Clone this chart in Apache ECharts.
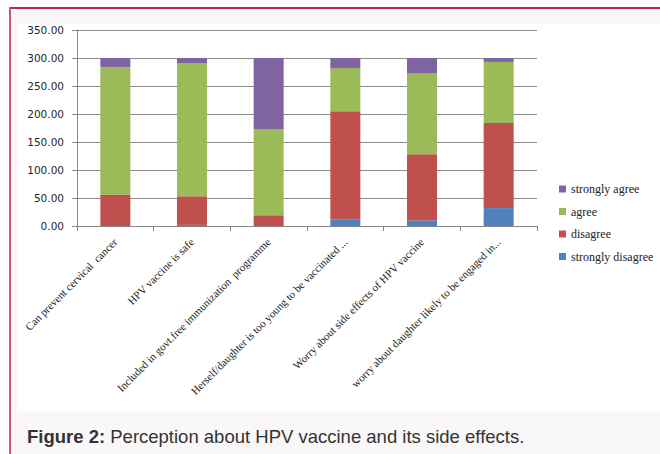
<!DOCTYPE html>
<html>
<head>
<meta charset="utf-8">
<script src="https://cdn.jsdelivr.net/npm/echarts@6/dist/echarts.min.js"></script>
<style>
html,body{margin:0;padding:0;background:#fff;}
#chart{width:660px;height:454px;}
</style>
</head>
<body>
<div id="chart"></div>
<script>
const categories = [
  "Can prevent cervical  cancer",
  "HPV vaccine is safe",
  "Included in govt.free immunization  programme",
  "Herself/daughter is too young to be vaccinated ...",
  "Worry about side effects of HPV vaccine",
  "worry about daughter likely to be engaged in..."
];
const stronglyDisagree = [0, 2, 0, 12, 10, 32];
const disagree = [56, 51, 19, 193, 118, 152];
const agree = [228, 238, 154, 77, 145, 109];
const stronglyAgree = [16, 9, 127, 18, 27, 7];
const legendOrder = ["strongly agree", "agree", "disagree", "strongly disagree"];

const chart = echarts.init(document.getElementById('chart'), null, {renderer: 'svg'});
const serif = "Liberation Serif";
function bar(name, data, color) {
  return {name, type: 'bar', stack: 'total', data, barWidth: 30,
    itemStyle: {color}, emphasis: {disabled: true}};
}
chart.setOption({
  animation: false,
  backgroundColor: '#ffffff',
  graphic: [
    {type: 'rect', z: -10, shape: {x: 9, y: 7, width: 651, height: 447}, style: {fill: '#f9f7f8'}},
    {type: 'rect', z: -9, shape: {x: 17, y: 24, width: 643, height: 388}, style: {fill: '#ffffff'}},
    {type: 'rect', z: -8, shape: {x: 9, y: 7, width: 651, height: 2}, style: {fill: '#c41f4f'}},
    {type: 'rect', z: -8, shape: {x: 9, y: 7, width: 2, height: 447}, style: {fill: '#d0557d'}}
  ],
  title: {
    left: 22, top: 422,
    text: '{b|Figure 2:} Perception about HPV vaccine and its side effects.',
    textStyle: {
      fontFamily: "Liberation Sans", fontSize: 18.5, fontWeight: 'normal', color: '#333333',
      rich: {b: {fontFamily: "Liberation Sans", fontSize: 18.5, fontWeight: 'bold', color: '#333333'}}
    }
  },
  legend: {
    orient: 'vertical', left: 554, top: 178,
    data: legendOrder, itemWidth: 7, itemHeight: 7, itemGap: 10.5,
    icon: 'rect', selectedMode: false,
    textStyle: {fontFamily: serif, fontSize: 12, color: '#222'}
  },
  grid: {left: 77, right: 123, top: 30, bottom: 228},
  xAxis: {
    type: 'category', data: categories,
    axisLine: {lineStyle: {color: '#868686'}},
    axisTick: {show: true, length: 5, lineStyle: {color: '#868686'}},
    axisLabel: {rotate: 45, interval: 0, margin: 14, fontFamily: serif, fontSize: 11, color: '#1a1a1a'}
  },
  yAxis: {
    type: 'value', min: 0, max: 350, interval: 50,
    axisLine: {show: true, lineStyle: {color: '#868686'}},
    axisTick: {show: true, length: 5, lineStyle: {color: '#868686'}},
    splitLine: {lineStyle: {color: '#8c8c8c'}},
    axisLabel: {margin: 13, fontFamily: "DejaVu Sans", fontSize: 10.5, color: '#1f1f2a',
      formatter: v => v.toFixed(2)}
  },
  series: [
    bar('strongly disagree', stronglyDisagree, '#4f81bd'),
    bar('disagree', disagree, '#c0504d'),
    bar('agree', agree, '#9bbb59'),
    bar('strongly agree', stronglyAgree, '#8064a2')
  ]
});
</script>
</body>
</html>
